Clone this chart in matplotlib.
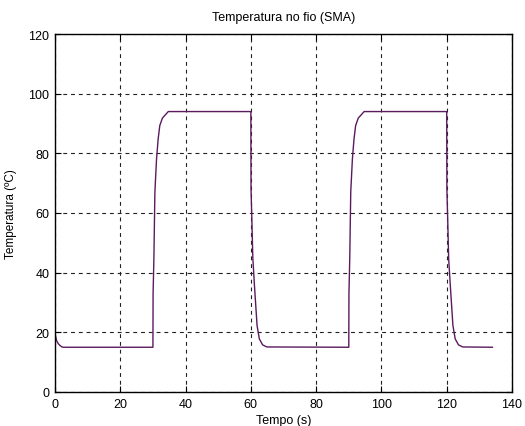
import matplotlib
matplotlib.use("Agg")
import matplotlib.pyplot as plt

plt.rcParams['font.family'] = ['Liberation Sans', 'DejaVu Sans']

title = "Temperatura no fio (SMA)"
xlabel = "Tempo (s)"
ylabel = "Temperatura (ºC)"

tempo = [0, 0.5, 1.0, 1.5, 2.0, 2.5,
         30.0, 30.05, 30.3, 30.6, 31.1, 31.6, 32.1, 32.9, 34.7,
         60.0, 60.05, 60.3, 60.6, 61.1, 61.9, 62.6, 63.6, 64.9,
         90.0, 90.05, 90.3, 90.6, 91.1, 91.6, 92.1, 92.9, 94.7,
         120.0, 120.05, 120.3, 120.6, 121.1, 121.9, 122.6, 123.6, 124.9,
         134.0]
temperatura = [19.5, 17.2, 16.2, 15.6, 15.2, 15.0,
               15.0, 33.0, 45.0, 67.0, 78.0, 84.8, 89.3, 91.8, 94.0,
               94.0, 68.0, 58.0, 45.0, 35.7, 22.3, 17.8, 15.8, 15.1,
               15.0, 33.0, 45.0, 67.0, 78.0, 84.8, 89.3, 91.8, 94.0,
               94.0, 68.0, 58.0, 44.6, 35.7, 22.3, 17.8, 15.8, 15.1,
               15.0]

xticks = [0, 20, 40, 60, 80, 100, 120, 140]
yticks = [0, 20, 40, 60, 80, 100, 120]

fig = plt.figure(figsize=(5.25, 4.27), dpi=100)
ax = fig.add_axes([55/525, 1-393/427, (512-55)/525, (393-35)/427])
ax.plot(tempo, temperatura, color='#5a1a5e', linewidth=1.0)
ax.set_xlim(0, 140)
ax.set_ylim(0, 120)
ax.set_xticks(xticks)
ax.set_yticks(yticks)
ax.grid(True, color='#222222', linestyle=(0, (3.5, 3.5)), linewidth=0.8)
ax.tick_params(direction='in', length=4, labelsize=9, top=True, right=True,
               width=0.8, pad=4)
for s in ax.spines.values():
    s.set_linewidth(1.0)
ax.set_title(title, fontsize=9, pad=10)
ax.set_xlabel(xlabel, fontsize=9, labelpad=3)
ax.set_ylabel(ylabel, fontsize=8.5, labelpad=8)
fig.savefig("out.png", dpi=100)
